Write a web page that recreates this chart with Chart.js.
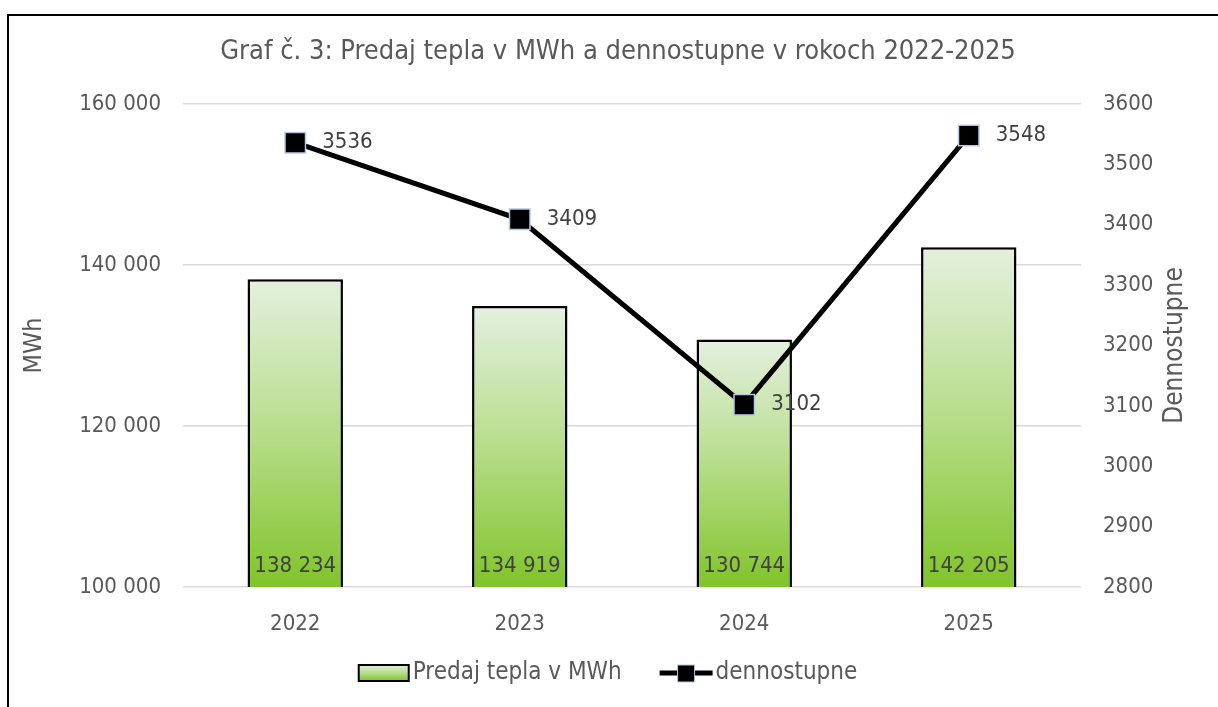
<!DOCTYPE html>
<html lang="sk">
<head>
  <meta charset="UTF-8">
  <title>Graf č. 3: Predaj tepla v MWh a dennostupne</title>
  <script src="https://cdn.jsdelivr.net/npm/chart.js"></script>
  <style>
    html, body { margin: 0; padding: 0; background: #fff; overflow: hidden; }
    #obal { width: 1218px; height: 707px; }
  </style>
</head>
<body>
  <div id="obal"><canvas id="graf" width="1218" height="707"></canvas></div>

  <script>
    // udaje z grafu
    const roky = ['2022', '2023', '2024', '2025'];
    const predajTepla = [138234, 134919, 130744, 142205];
    const dennostupne = [3536, 3409, 3102, 3548];
    const osMwh = [100000, 120000, 140000, 160000];
    const osDennostupne = [2800, 2900, 3000, 3100, 3200, 3300, 3400, 3500, 3600];

    const nadpis = 'Graf č. 3: Predaj tepla v MWh a dennostupne v rokoch 2022-2025';
    const PISMO = "'Liberation Sans Narrow', 'Arial Narrow', 'DejaVu Sans Condensed', sans-serif";
    const SEDA = '#595959';
    const TMAVA = '#404040';

    function medzery(v) {
      return String(v).replace(/\B(?=(\d{3})+(?!\d))/g, ' ');
    }

    function zelenyPrechod(ctx, hore, dole) {
      const g = ctx.createLinearGradient(0, hore, 0, dole);
      g.addColorStop(0, '#e4f0df');
      g.addColorStop(0.5, '#b7dd8a');
      g.addColorStop(1, '#80c42a');
      return g;
    }

    // ramik okolo grafu + nadpis + legenda + nazov pravej osi
    const ramik = {
      id: 'ramik',
      beforeDraw(chart) {
        const c = chart.ctx;
        c.save();
        c.fillStyle = '#fff';
        c.fillRect(0, 0, chart.width, chart.height);
        c.strokeStyle = '#000';
        c.lineWidth = 2;
        c.beginPath();
        c.moveTo(8, chart.height + 5);
        c.lineTo(8, 15);
        c.lineTo(chart.width + 5, 15);
        c.stroke();
        c.restore();
      },
      afterDraw(chart) {
        const c = chart.ctx;
        const ca = chart.chartArea;
        c.save();
        c.fillStyle = SEDA;
        c.font = '27px ' + PISMO;
        c.textAlign = 'center';
        c.textBaseline = 'middle';
        c.fillText(nadpis, 618, 52);

        // nazov pravej osi (zdola nahor)
        c.save();
        c.translate(1175, (ca.top + ca.bottom) / 2);
        c.rotate(-Math.PI / 2);
        c.font = '26px ' + PISMO;
        c.fillText('Dennostupne', 0, 0);
        c.restore();

        // legenda
        const y = 673;
        c.font = '24px ' + PISMO;
        const t1 = chart.data.datasets[0].label;
        const t2 = chart.data.datasets[1].label;
        const w1 = 50 + 4 + c.measureText(t1).width;
        const w2 = 53 + 3 + c.measureText(t2).width;
        const medzera = 38;
        let x = 608 - (w1 + medzera + w2) / 2;

        c.fillStyle = zelenyPrechod(c, y - 8, y + 8);
        c.fillRect(x, y - 8, 50, 16);
        c.strokeStyle = '#000';
        c.lineWidth = 2;
        c.strokeRect(x, y - 8, 50, 16);
        c.fillStyle = SEDA;
        c.textAlign = 'left';
        c.fillText(t1, x + 54, y);

        x += w1 + medzera;
        c.strokeStyle = '#000';
        c.lineWidth = 5;
        c.beginPath();
        c.moveTo(x, y);
        c.lineTo(x + 53, y);
        c.stroke();
        c.fillStyle = '#000';
        c.fillRect(x + 18, y - 8, 17, 17);
        c.strokeStyle = '#b4c7e7';
        c.lineWidth = 1;
        c.strokeRect(x + 18, y - 8, 17, 17);
        c.fillStyle = SEDA;
        c.fillText(t2, x + 56, y);
        c.restore();
      }
    };

    // popisky hodnot
    const popisky = {
      id: 'popisky',
      afterDatasetsDraw(chart) {
        const c = chart.ctx;
        c.save();
        c.font = '22px ' + PISMO;
        c.fillStyle = TMAVA;
        c.textBaseline = 'middle';

        const spodok = chart.scales.y.getPixelForValue(osMwh[0]);
        const stlpce = chart.getDatasetMeta(0).data;
        c.textAlign = 'center';
        stlpce.forEach((el, i) => {
          c.fillText(medzery(predajTepla[i]), el.x, spodok - 21);
        });

        const body = chart.getDatasetMeta(1).data;
        c.textAlign = 'left';
        body.forEach((el, i) => {
          c.fillText(String(dennostupne[i]), el.x + 27, el.y);
        });
        c.restore();
      }
    };

    new Chart(document.getElementById('graf'), {
      data: {
        labels: roky,
        datasets: [
          {
            type: 'bar',
            label: 'Predaj tepla v MWh',
            data: predajTepla,
            yAxisID: 'y',
            order: 2,
            barPercentage: 0.85,
            categoryPercentage: 0.5,
            borderColor: '#000',
            borderWidth: 2.5,
            backgroundColor: (ctx) => {
              const ch = ctx.chart;
              const sy = ch.scales.y;
              if (!sy || ctx.raw === undefined) return '#b7dd8a';
              const hore = sy.getPixelForValue(ctx.raw);
              const dole = sy.getPixelForValue(osMwh[0]);
              if (!isFinite(hore) || !isFinite(dole) || hore === dole) return '#b7dd8a';
              return zelenyPrechod(ch.ctx, hore, dole);
            }
          },
          {
            type: 'line',
            label: 'dennostupne',
            data: dennostupne,
            yAxisID: 'y1',
            order: 1,
            borderColor: '#000',
            borderWidth: 5,
            tension: 0,
            pointStyle: 'rect',
            pointRadius: 14.5,
            pointHoverRadius: 14.5,
            pointBackgroundColor: '#000',
            pointBorderColor: '#b4c7e7',
            pointBorderWidth: 1.5
          }
        ]
      },
      options: {
        responsive: false,
        animation: false,
        devicePixelRatio: 1,
        layout: { padding: { top: 104, bottom: 60, left: 0, right: 0 } },
        plugins: {
          legend: { display: false },
          title: { display: false },
          tooltip: { enabled: false }
        },
        scales: {
          x: {
            grid: { display: false },
            border: { display: false },
            ticks: { color: SEDA, font: { family: PISMO, size: 22 }, padding: 16 },
            afterFit: (s) => { s.height = 60; }
          },
          y: {
            position: 'left',
            min: osMwh[0],
            max: osMwh[osMwh.length - 1],
            afterBuildTicks: (s) => { s.ticks = osMwh.map(v => ({ value: v })); },
            ticks: {
              color: SEDA,
              font: { family: PISMO, size: 22 },
              padding: 22,
              callback: (v) => medzery(v)
            },
            grid: { color: '#d9d9d9', lineWidth: 1.5, drawTicks: false },
            border: { display: false },
            title: {
              display: true,
              text: 'MWh',
              color: SEDA,
              font: { family: PISMO, size: 25 },
              padding: { top: 19, bottom: 0 }
            },
            afterFit: (s) => { s.width = 183; }
          },
          y1: {
            position: 'right',
            min: osDennostupne[0],
            max: osDennostupne[osDennostupne.length - 1],
            afterBuildTicks: (s) => { s.ticks = osDennostupne.map(v => ({ value: v })); },
            ticks: {
              color: SEDA,
              font: { family: PISMO, size: 22 },
              padding: 22,
              callback: (v) => String(v)
            },
            grid: { display: false, drawTicks: false },
            border: { display: false },
            afterFit: (s) => { s.width = 137; }
          }
        }
      },
      plugins: [ramik, popisky]
    });
  </script>
</body>
</html>
